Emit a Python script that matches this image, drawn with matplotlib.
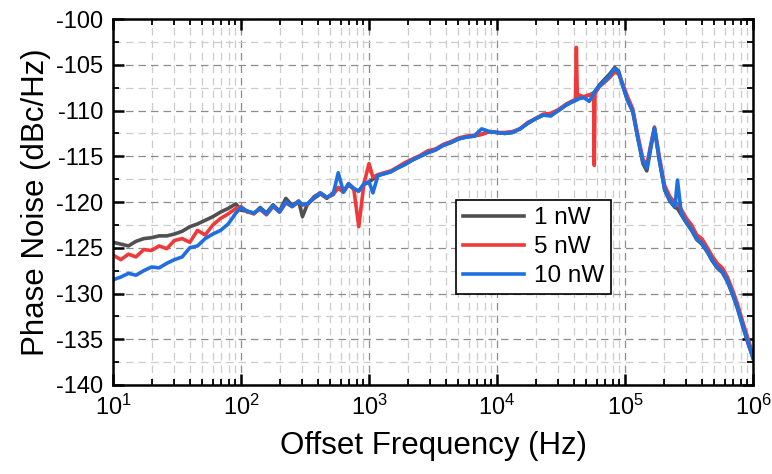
import matplotlib
matplotlib.use("Agg")
import matplotlib.pyplot as plt
from matplotlib.ticker import LogLocator, MultipleLocator, LogFormatterMathtext, NullFormatter

plt.rcParams['font.family'] = ['Liberation Sans', 'DejaVu Sans']
plt.rcParams['mathtext.default'] = 'regular'
plt.rcParams['axes.unicode_minus'] = False

# Offset frequency (Hz)
freq = [10, 11.5, 13.2, 15.1, 17.4, 20, 22.9, 26.3, 30.2, 34.7,
        39.8, 45.7, 52.5, 60.3, 69.2, 79.4, 91.2, 100, 112, 126,
        141, 158, 178, 200, 224, 251, 282, 302, 331, 372,
        417, 468, 525, 575, 631, 692, 759, 832, 912, 1000,
        1072, 1175, 1318, 1479, 1660, 1905, 2188, 2512, 2884, 3311,
        3802, 4365, 5012, 5754, 6607, 7586, 8710, 10000, 11482, 13183,
        15136, 17378, 19953, 22909, 26303, 30200, 34674, 38019, 41000, 41687,
        42400, 43652, 47863, 52481, 56800, 57544, 58300, 63096, 69183, 75858,
        83176, 89125, 95499, 104713, 114815, 125893, 138038, 147911, 158489, 169824,
        186209, 204174, 223872, 245471, 257040, 275423, 301995, 331131, 363078, 398107,
        436516, 478630, 524807, 575440, 630957, 691831, 758578, 831764, 912011, 1000000]

pn_1nw = [-124.4, -124.6, -124.8, -124.3, -124.0, -123.9, -123.7, -123.7, -123.5, -123.2,
          -122.7, -122.4, -122.0, -121.6, -121.1, -120.7, -120.2, -120.9, -121.0, -121.3,
          -120.6, -121.2, -120.3, -121.0, -119.6, -120.4, -119.9, -121.6, -120.2, -119.6,
          -119.1, -119.6, -119.0, -118.5, -118.9, -118.1, -118.6, -118.8, -118.1, -117.8,
          -117.5, -117.1, -116.9, -116.7, -116.3, -115.9, -115.4, -115.0, -114.6, -114.3,
          -113.8, -113.5, -113.1, -112.9, -112.8, -112.6, -112.3, -112.4, -112.5, -112.4,
          -112.0, -111.4, -110.9, -110.5, -110.4, -110.0, -109.4, -109.1, -108.9, -108.8,
          -108.8, -108.6, -108.5, -108.3, -108.1, -108.0, -107.9, -107.2, -106.6, -106.0,
          -105.3, -105.7, -107.2, -108.9, -110.1, -113.0, -115.8, -116.6, -114.2, -112.0,
          -115.6, -118.7, -119.9, -120.6, -120.7, -121.4, -122.3, -123.1, -124.1, -124.6,
          -125.4, -126.4, -127.2, -127.7, -128.7, -130.1, -131.7, -133.6, -135.4, -137.1]

pn_5nw = [-125.8, -126.3, -125.7, -126.0, -125.2, -125.3, -124.8, -125.1, -124.2, -124.0,
          -124.4, -123.1, -123.6, -122.5, -121.8, -121.3, -120.7, -120.5, -121.1, -121.2,
          -120.8, -121.4, -120.5, -121.1, -120.1, -120.5, -120.0, -120.3, -120.3, -119.4,
          -119.0, -119.5, -119.2, -118.4, -118.9, -118.0, -118.5, -122.7, -118.0, -115.8,
          -117.3, -117.0, -116.8, -116.6, -116.2, -115.7, -115.3, -114.9, -114.4, -114.2,
          -113.7, -113.4, -113.0, -112.8, -112.7, -112.6, -112.3, -112.4, -112.4, -112.3,
          -112.0, -111.3, -110.9, -110.4, -110.3, -109.9, -109.3, -109.0, -108.8, -103.1,
          -108.5, -108.3, -108.5, -108.3, -108.2, -116.0, -108.1, -107.4, -106.9, -106.4,
          -105.8, -106.0, -107.0, -108.5, -109.8, -112.7, -115.3, -116.0, -113.8, -111.8,
          -115.2, -118.2, -119.4, -120.1, -120.2, -120.8, -121.8, -122.5, -123.6, -124.0,
          -124.9, -125.9, -126.7, -127.2, -128.2, -129.6, -131.2, -133.1, -134.9, -136.7]

pn_10nw = [-128.5, -128.2, -127.8, -128.0, -127.5, -127.1, -127.2, -126.7, -126.3, -126.0,
           -125.0, -124.8, -124.0, -123.5, -123.1, -122.4, -121.2, -120.6, -121.0, -121.2,
           -120.7, -121.3, -120.4, -121.1, -120.0, -120.5, -119.9, -120.3, -120.2, -119.5,
           -119.0, -119.5, -119.1, -116.8, -118.9, -118.0, -118.5, -118.8, -118.0, -117.8,
           -119.0, -117.1, -116.9, -116.7, -116.3, -115.9, -115.4, -115.0, -114.6, -114.3,
           -113.8, -113.5, -113.1, -112.9, -112.8, -112.0, -112.3, -112.4, -112.5, -112.4,
           -112.0, -111.4, -110.9, -110.5, -110.6, -110.0, -109.4, -109.1, -108.9, -108.8,
           -108.8, -108.7, -108.6, -109.0, -108.2, -108.0, -107.9, -107.3, -106.8, -106.2,
           -105.4, -105.8, -107.2, -108.9, -110.0, -113.0, -115.6, -116.3, -114.0, -111.9,
           -115.5, -118.6, -119.8, -120.5, -117.6, -121.3, -122.2, -123.0, -124.0, -124.5,
           -125.3, -126.3, -127.1, -127.6, -128.6, -130.0, -131.6, -133.5, -135.3, -137.0]

labels = ['1 nW', '5 nW', '10 nW']
colors = ['#505050', '#ee3a3a', '#1f6fe0']

fig = plt.figure(figsize=(7.72, 4.74), dpi=100)
ax = fig.add_axes([0.1464, 0.1878, 0.829, 0.772])

for y, lab, c in zip([pn_1nw, pn_5nw, pn_10nw], labels, colors):
    ax.plot(freq, y, color=c, lw=2.6, label=lab, solid_joinstyle='round')

ax.set_xscale('log')
ax.set_xlim(10, 1e6)
ax.set_ylim(-140, -100)
ax.xaxis.set_major_locator(LogLocator(base=10, numticks=10))
ax.xaxis.set_minor_locator(LogLocator(base=10, subs=range(2, 10), numticks=20))
ax.xaxis.set_major_formatter(LogFormatterMathtext())
ax.xaxis.set_minor_formatter(NullFormatter())
ax.yaxis.set_major_locator(MultipleLocator(5))
ax.yaxis.set_minor_locator(MultipleLocator(2.5))

ax.grid(which='major', color='#8c8c8c', linestyle=(0, (6, 4)), linewidth=0.9)
ax.grid(which='minor', color='#cccccc', linestyle=(0, (6, 4)), linewidth=0.9)
ax.set_axisbelow(True)

ax.tick_params(which='both', direction='in', top=True, right=True)
ax.tick_params(which='major', length=8, width=1.8, labelsize=17, pad=7)
ax.tick_params(which='minor', length=4, width=1.3)
for s in ax.spines.values():
    s.set_linewidth(1.8)

ax.set_xlabel('Offset Frequency (Hz)', fontsize=22.5, labelpad=8)
ax.set_ylabel('Phase Noise (dBc/Hz)', fontsize=22.5, labelpad=4)

leg = ax.legend(loc='upper left', bbox_to_anchor=(0.536, 0.505), fontsize=17.5,
                frameon=True, fancybox=False, edgecolor='black', framealpha=1,
                handlelength=2.5, handletextpad=0.4, borderpad=0.3, labelspacing=0.28,
                borderaxespad=0)
leg.get_frame().set_linewidth(1.2)

fig.savefig('out.png', dpi=100)
